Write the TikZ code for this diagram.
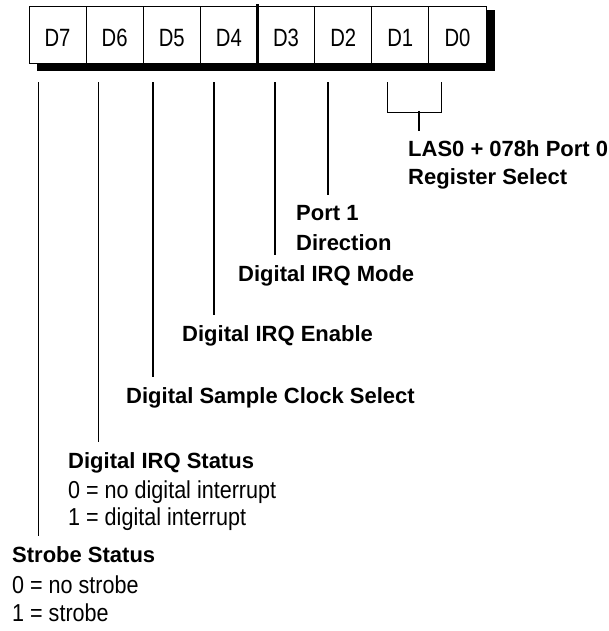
\documentclass[tikz,border=0pt]{standalone}
\usepackage{fontspec}
\setmainfont{Liberation Sans}
\newfontfamily\narrowfont[FakeStretch=0.88]{Liberation Sans}
\newfontfamily\cellfont[FakeStretch=0.81]{Liberation Sans}
\usetikzlibrary{calc}

\tikzset{
  cell/.style={draw, fill=white, line width=0.9pt, minimum width=57.125pt,
    minimum height=57pt, inner sep=0pt, text height=24.4pt, text depth=0pt,
    font=\cellfont\fontsize{25}{28}\selectfont},
  lead/.style={line width=1.5pt},
  lbl/.style={anchor=base west, inner xsep=0pt, inner ysep=10pt,
    font=\fontsize{22}{28}\selectfont\bfseries},
  val/.style={lbl, font=\narrowfont\fontsize{24.5}{28}\selectfont},
}

\begin{document}
\begin{tikzpicture}[x=1pt, y=-1pt]
  \useasboundingbox (0,0) rectangle (609,631);
  % shadow under the register
  \fill (37,10) rectangle (495,71);
  \foreach \b [count=\i from 0] in {7,6,...,0}
    \node[cell] (b\b) at ({29+57.125*(\i+0.5)},34.5) {D\b};
  \draw[line width=3pt] (b3.south west) -- ([yshift=2pt]b3.north west);

  % bit descriptions
  \node[lbl] (las) at (408,157) {LAS0 + 078h Port 0};
  \node[lbl] (regsel) at (408,185) {Register Select};
  \node[lbl] (port) at (296,220) {Port 1};
  \node[lbl] (dir) at (296,250) {Direction};
  \node[lbl] (mode) at (238,281) {Digital IRQ Mode};
  \node[lbl] (irqen) at (182,341) {Digital IRQ Enable};
  \node[lbl] (clk) at (126,403) {Digital Sample Clock Select};
  \node[lbl] (irqst) at (68,468) {Digital IRQ Status};
  \node[val] (irqno) at (68,498) {0 = no digital interrupt};
  \node[val] (irqyes) at (68,525) {1 = digital interrupt};
  \node[lbl] (strobe) at (12,562) {Strobe Status};
  \node[val] (strno) at (12,593) {0 = no strobe};
  \node[val] (stryes) at (12,621) {1 = strobe};

  % leads
  \foreach \b/\dx/\t in {7/10/strobe, 6/13/irqst, 5/10/clk, 4/14/irqen,
                         3/18/mode, 2/14/port}
    \draw[lead] ([xshift=\dx pt, yshift=-19pt]b\b.south west)
      -- ([xshift=\dx pt]b\b.south west |- \t.north);
  % D1/D0 bracket
  \draw[lead] ([xshift=16pt, yshift=-19pt]b1.south west) -- ++(0,30)
    -| ([xshift=13pt, yshift=-19pt]b0.south west);
  \coordinate (brk) at (419,111);
  \draw[lead] (brk) -- (brk |- las.north);
\end{tikzpicture}
\end{document}
